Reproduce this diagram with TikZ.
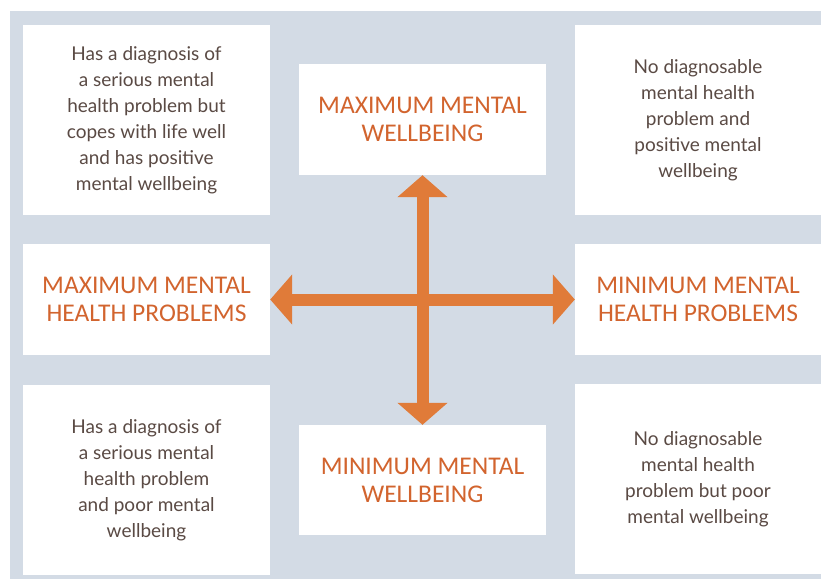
\documentclass[tikz,border=0pt]{standalone}
\usepackage{fontspec}
\setmainfont{Lato}
\newfontfamily\headfont{Carlito}
\usetikzlibrary{arrows.meta}
\definecolor{bgc}{HTML}{D3DBE5}
\definecolor{org}{HTML}{D2642E}
\definecolor{arr}{HTML}{E07B39}
\definecolor{txt}{HTML}{5A4A44}
\tikzset{
  box/.style={fill=white, inner sep=0pt, align=center},
  descbox/.style={box, minimum width=247pt, minimum height=190pt, text=txt, font=\fontsize{19}{26}\selectfont},
  headbox/.style={box, minimum width=247pt, minimum height=111pt, text=org, font=\headfont\fontsize{25.5}{28}\selectfont},
  bigarrow/.style={draw=arr, line width=12pt, {Triangle[width=49pt,length=22pt]}-{Triangle[width=49pt,length=22pt]}}
}
\begin{document}
\begin{tikzpicture}[x=1pt,y=-1pt]
\useasboundingbox (0,0) rectangle (821,579);
\fill[white] (0,0) rectangle (821,579);
\fill[bgc] (10,11) rectangle (821,579);
\node[descbox] (tl) at (146.5,120) {Has a diagnosis of\\a serious mental\\health problem but\\copes with life well\\and has positive\\mental wellbeing};
\node[descbox, minimum width=246pt] (tr) at (698,120) {No diagnosable\\mental health\\problem and\\positive mental\\wellbeing};
\node[descbox] (bl) at (146.5,480) {Has a diagnosis of\\a serious mental\\health problem\\and poor mental\\wellbeing};
\node[descbox, minimum width=246pt] (br) at (698,479) {No diagnosable\\mental health\\problem but poor\\mental wellbeing};
\node[headbox] (tc) at (422.5,119.5) {MAXIMUM MENTAL\\WELLBEING};
\node[headbox, minimum height=110pt] (bc) at (422.5,480) {MINIMUM MENTAL\\WELLBEING};
\node[headbox] (ml) at (146.5,299.5) {MAXIMUM MENTAL\\HEALTH PROBLEMS};
\node[headbox, minimum width=246pt] (mr) at (698,299.5) {MINIMUM MENTAL\\HEALTH PROBLEMS};
\draw[bigarrow] (tc) -- (bc);
\draw[bigarrow] (ml) -- (mr);
\end{tikzpicture}
\end{document}
